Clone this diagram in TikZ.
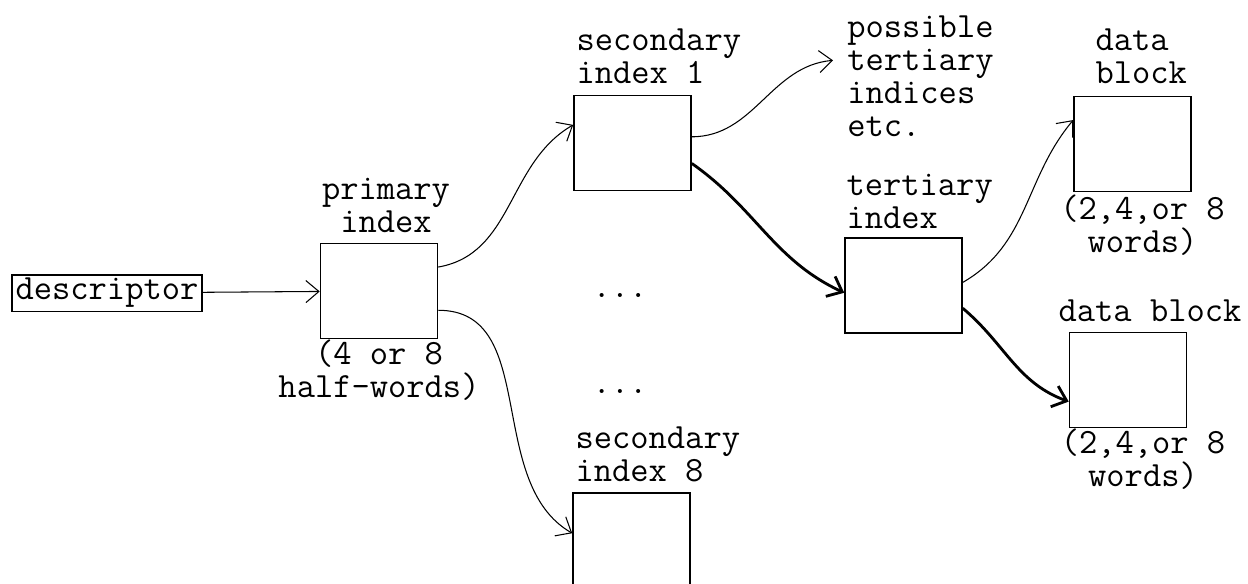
\documentclass[tikz,border=0pt]{standalone}
\usepackage{fontspec}
\usetikzlibrary{arrows.meta}

\begin{document}
\begin{tikzpicture}[x=0.02cm, y=-0.02cm,
  font=\ttfamily\fontsize{20.2pt}{18.8pt}\selectfont,
  >={Straight Barb[length=2.6mm,width=4.4mm]},
  block/.style={draw, line width=0.9pt, minimum width=2.34cm, minimum height=1.9cm, inner sep=0pt},
  lbl/.style={inner sep=0pt, align=left},
  ptr/.style={->, line width=0.6pt},
  hot/.style={->, line width=1.6pt}]
  \useasboundingbox (0,0) rectangle (1248,583);

  \node[draw, line width=0.9pt, inner sep=2pt] (desc) at (107,293) {descriptor};

  \node[block] (prim) at (379,291) {};
  \node[lbl, align=center, anchor=south] (primlbl) at ([xshift=0.14cm, yshift=0.2cm]prim.north) {primary\\index};
  \node[lbl, align=center, anchor=north] (primsize) at (prim.south) {(4 or 8\\half-words)};

  \node[block] (sec1) at (632.5,143) {};
  \node[lbl, anchor=south west] (sec1lbl) at ([xshift=0.06cm, yshift=0.22cm]sec1.north west) {secondary\\index 1};
  \node[lbl, anchor=north west] (more) at (847,15) {possible\\tertiary\\indices\\etc.};

  \node[anchor=base] (dotsa) at (620,297) {...};
  \node[anchor=base] (dotsb) at (620,393) {...};

  \node[block] (sec8) at (631.5,540.5) {};
  \node[lbl, anchor=south west] (sec8lbl) at ([xshift=0.06cm, yshift=0.2cm]sec8.north west) {secondary\\index 8};

  \node[block] (tert) at (903.5,285.5) {};
  \node[lbl, anchor=south west] (tertlbl) at ([xshift=0.04cm, yshift=0.16cm]tert.north west) {tertiary\\index};

  \node[block] (data1) at (1132.5,144) {};
  \node[lbl, anchor=south west] (data1lbl) at ([xshift=0.44cm, yshift=0.24cm]data1.north west) {data\\block};
  \node[lbl, align=center, anchor=north] (data1size) at ([xshift=0.2cm, yshift=-0.04cm]data1.south) {(2,4,or 8\\words)};

  \node[block] (data2) at (1128,380) {};
  \node[lbl, anchor=south] (data2lbl) at ([xshift=0.44cm, yshift=0.2cm]data2.north) {data block};
  \node[lbl, align=center, anchor=north] (data2size) at ([xshift=0.3cm]data2.south) {(2,4,or 8\\words)};

  % pointers
  \draw[ptr] (desc) -- (prim);
  \draw[ptr] (prim.22) to[out=10,in=210] (sec1.163);
  \draw[ptr] (prim.-18) to[out=0,in=150] (sec8.173);
  \draw[ptr] (sec1.6) to[out=0,in=185] ([xshift=-0.28cm, yshift=0.31cm]more.west);
  \draw[hot] (sec1.-19) to[out=-35,in=155] (tert.187);
  \draw[ptr] (tert.3) to[out=30,in=230] (data1.158);
  \draw[hot] (tert.-21) to[out=-40,in=160] (data2.200);
\end{tikzpicture}
\end{document}
